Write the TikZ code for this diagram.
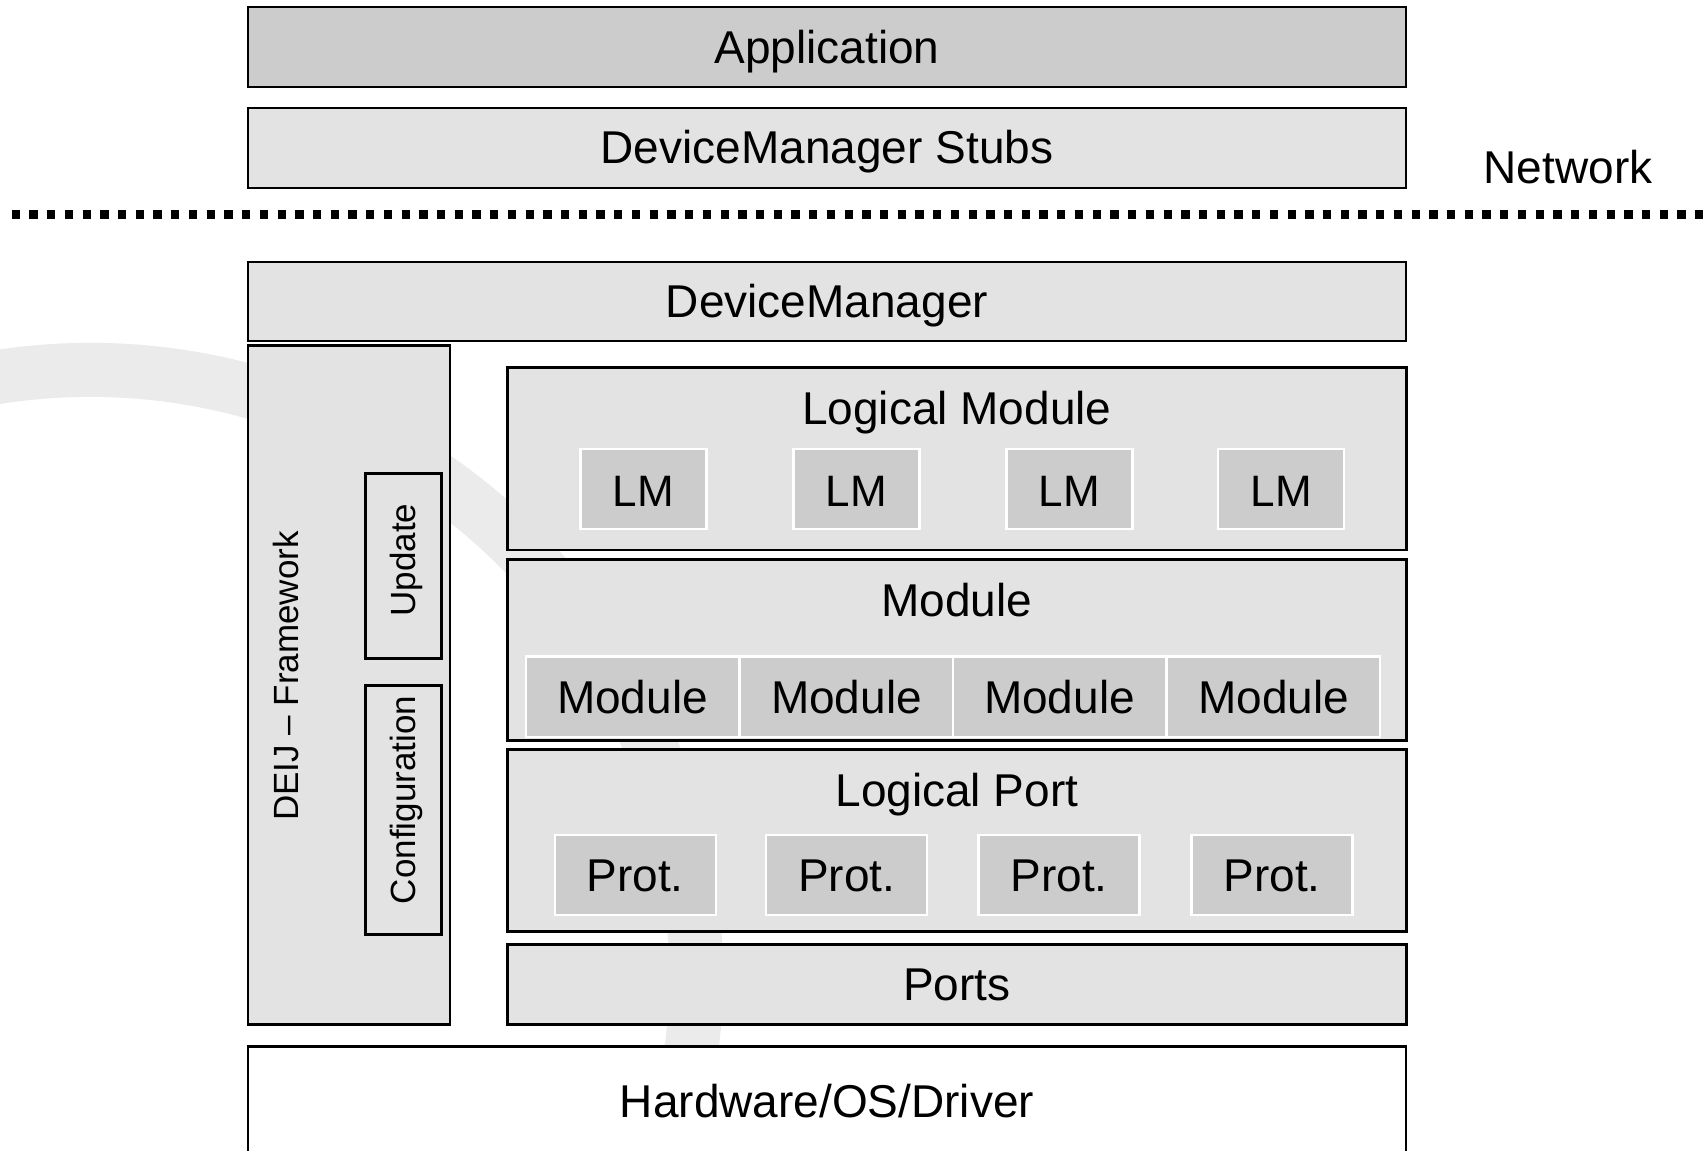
\documentclass[tikz,border=0pt]{standalone}
\usepackage{fontspec}
\setmainfont{Liberation Sans}
\definecolor{boxfill}{RGB}{227,227,227}
\definecolor{darkfill}{RGB}{204,204,204}
\definecolor{bandgray}{RGB}{235,235,235}
\begin{document}
\begin{tikzpicture}[x=0.5pt,y=-0.5pt,
  every node/.style={inner sep=0pt, outer sep=0pt},
  blk/.style={rectangle, draw=black, line width=1.4pt, fill=boxfill},
  sub/.style={rectangle, draw=white, line width=1.1pt, fill=darkfill},
  txt/.style={font=\fontsize{23}{27}\selectfont, anchor=base},
  smalltxt/.style={font=\fontsize{22}{26}\selectfont, anchor=base},
  vtxt/.style={font=\fontsize{17.5}{21}\selectfont, anchor=base, rotate=90},
  dots/.style={line width=4.5pt, dash pattern=on 4.15pt off 4.71pt}
]
\useasboundingbox (0,0) rectangle (1704,1151);
\clip (0,0) rectangle (1704,1151);
\fill[white] (0,0) rectangle (1704,1151);

% watermark arc
\draw[bandgray, line width=27pt] (90,976) ++(255:606) arc[start angle=255, end angle=372, radius=606];

% top part
\node[blk, fill=darkfill, minimum width=579pt, minimum height=40pt] (app) at (827,47) {};
\node[txt] (appT) at (827,63) {Application};
\node[blk, minimum width=579pt, minimum height=40pt] (stubs) at (827,148) {};
\node[txt] (stubsT) at (827,163.5) {DeviceManager Stubs};
\node[txt] (net) at (1568,183) {Network};

% network line
\coordinate (netL) at (11.7,214.5);
\coordinate (netR) at (1704,214.5);
\draw[dots] (netL) -- (netR);

% device manager
\node[blk, minimum width=579pt, minimum height=39.5pt] (dm) at (827,301.5) {};
\node[txt] (dmT) at (827,317) {DeviceManager};

% DEIJ framework
\node[blk, minimum width=101pt, minimum height=339.5pt] (deij) at (349,685.2) {};
\node[vtxt] (deijT) at (298,676) {DEIJ -- Framework};
\node[blk, minimum width=38pt, minimum height=92.4pt] (upd) at (403.2,566.2) {};
\node[vtxt] (updT) at (415,560) {Update};
\node[blk, minimum width=38pt, minimum height=124.5pt] (conf) at (403.2,810.2) {};
\node[vtxt] (confT) at (415,800) {Configuration};

% Logical Module
\node[blk, minimum width=449.4pt, minimum height=91.3pt] (lmod) at (956.9,458.6) {};
\node[txt] (lmodT) at (956.9,424) {Logical Module};
\foreach \i/\x in {1/643.4,2/856.4,3/1069.4,4/1281.3}{
  \node[sub, minimum width=63pt, minimum height=40pt] (lm\i) at (\x,489) {};
  \node[smalltxt] (lm\i T) at (\x,506.7) {LM};
}

% Module
\node[blk, minimum width=449.4pt, minimum height=90.2pt] (mod) at (956.9,649.9) {};
\node[txt] (modT) at (956.9,616) {Module};
\foreach \i/\x in {1/632.5,2/846.5,3/1059.5,4/1273.6}{
  \node[sub, minimum width=106.75pt, minimum height=40.2pt] (m\i) at (\x,696.6) {};
  \node[txt] (m\i T) at (\x,713.3) {Module};
}

% Logical Port
\node[blk, minimum width=449.4pt, minimum height=90.7pt] (lport) at (956.9,840.5) {};
\node[txt] (lportT) at (956.9,806.7) {Logical Port};
\foreach \i/\x in {1/635.2,2/846.6,3/1059,4/1272}{
  \node[sub, minimum width=80.5pt, minimum height=40.2pt] (p\i) at (\x,874.8) {};
  \node[txt] (p\i T) at (\x,891.7) {Prot.};
}

% Ports
\node[blk, minimum width=449.4pt, minimum height=40.2pt] (ports) at (956.9,984.6) {};
\node[txt] (portsT) at (956.9,1000.5) {Ports};

% Hardware
\node[blk, fill=white, minimum width=579pt, minimum height=101.7pt] (hw) at (827,1148.2) {};
\node[txt] (hwT) at (827,1117.7) {Hardware/OS/Driver};
\end{tikzpicture}
\end{document}
